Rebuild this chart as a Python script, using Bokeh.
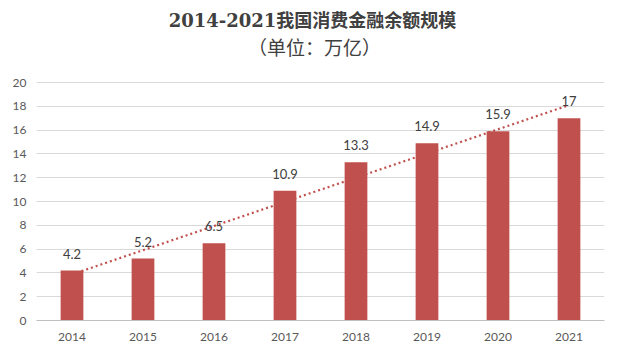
import numpy as np
from bokeh.plotting import figure
from bokeh.models import ColumnDataSource, Label, FixedTicker, Range1d
from bokeh.core.properties import value
from bokeh.embed import file_html
from bokeh.resources import INLINE

years = ["2014", "2015", "2016", "2017", "2018", "2019", "2020", "2021"]
balance = [4.2, 5.2, 6.5, 10.9, 13.3, 14.9, 15.9, 17]
label_text = ["4.2", "5.2", "6.5", "10.9", "13.3", "14.9", "15.9", "17"]
y_ticks = [0, 2, 4, 6, 8, 10, 12, 14, 16, 18, 20]
y_max = 20

title_text = "2014-2021我国消费金融余额规模"
subtitle_text = "（单位：万亿）"

# linear trendline (Excel style) fitted on the data
idx = np.arange(1, len(balance) + 1)
slope, intercept = np.polyfit(idx, balance, 1)
trend = list(slope * idx + intercept)

bar_color = "#C0504D"
text_color = "#404040"
axis_text = "#595959"

H, BOTTOM, PLOT_TOP = 350, 30, 82   # layout: frame spans full height, y_max sits at PLOT_TOP
frame_h = H - BOTTOM
y_end = y_max * frame_h / (frame_h - PLOT_TOP)

src = ColumnDataSource(dict(year=years, v=balance, lab=label_text, trend=trend))

p = figure(x_range=years, y_range=Range1d(0, y_end), width=612, height=H,
           output_backend="svg", toolbar_location=None,
           min_border_left=36, min_border_right=8, min_border_bottom=BOTTOM, min_border_top=0)

main = Label(x=276, y=frame_h - 20, x_units="screen", y_units="screen", text=title_text,
             text_align="center", text_baseline="middle", text_font_size="18px",
             text_font="'DejaVu Serif', 'Noto Sans CJK SC', serif",
             text_color=text_color, text_font_style="bold")
sub = Label(x=278, y=frame_h - 46, x_units="screen", y_units="screen", text=subtitle_text,
            text_align="center", text_baseline="middle", text_font_size="19px",
            text_font="'Noto Sans CJK SC', sans-serif",
            text_color=text_color, text_font_style="normal")
p.add_layout(main)
p.add_layout(sub)

p.line(x="year", y="trend", source=src, line_color=bar_color, line_width=2.2,
       line_dash="2 3")
p.vbar(x="year", top="v", width=0.32, source=src, fill_color=bar_color,
       line_color=None)
p.text(x="year", y="v", text="lab", source=src, text_align="center",
       text_baseline="middle", y_offset=-17, text_font_size="13px",
       text_color=text_color, text_font=value("Lato"))

p.outline_line_color = None
p.xgrid.grid_line_color = None
p.ygrid.grid_line_color = "#D9D9D9"
p.ygrid.grid_line_width = 1
p.yaxis.ticker = FixedTicker(ticks=y_ticks)
p.yaxis.axis_line_color = None
p.yaxis.major_tick_line_color = None
p.yaxis.minor_tick_line_color = None
p.yaxis.major_tick_out = 0
p.yaxis.minor_tick_out = 0
p.yaxis.major_label_standoff = 10
p.xaxis.axis_line_color = "#BFBFBF"
p.xaxis.major_tick_line_color = None
p.xaxis.major_tick_out = 0
p.xaxis.major_label_standoff = 12
for ax in (p.xaxis, p.yaxis):
    ax.major_label_text_font = "Lato"
    ax.major_label_text_font_size = "12px"
    ax.major_label_text_color = axis_text
p.x_range.range_padding = 0

open("out.html", "w").write(file_html(p, INLINE))
